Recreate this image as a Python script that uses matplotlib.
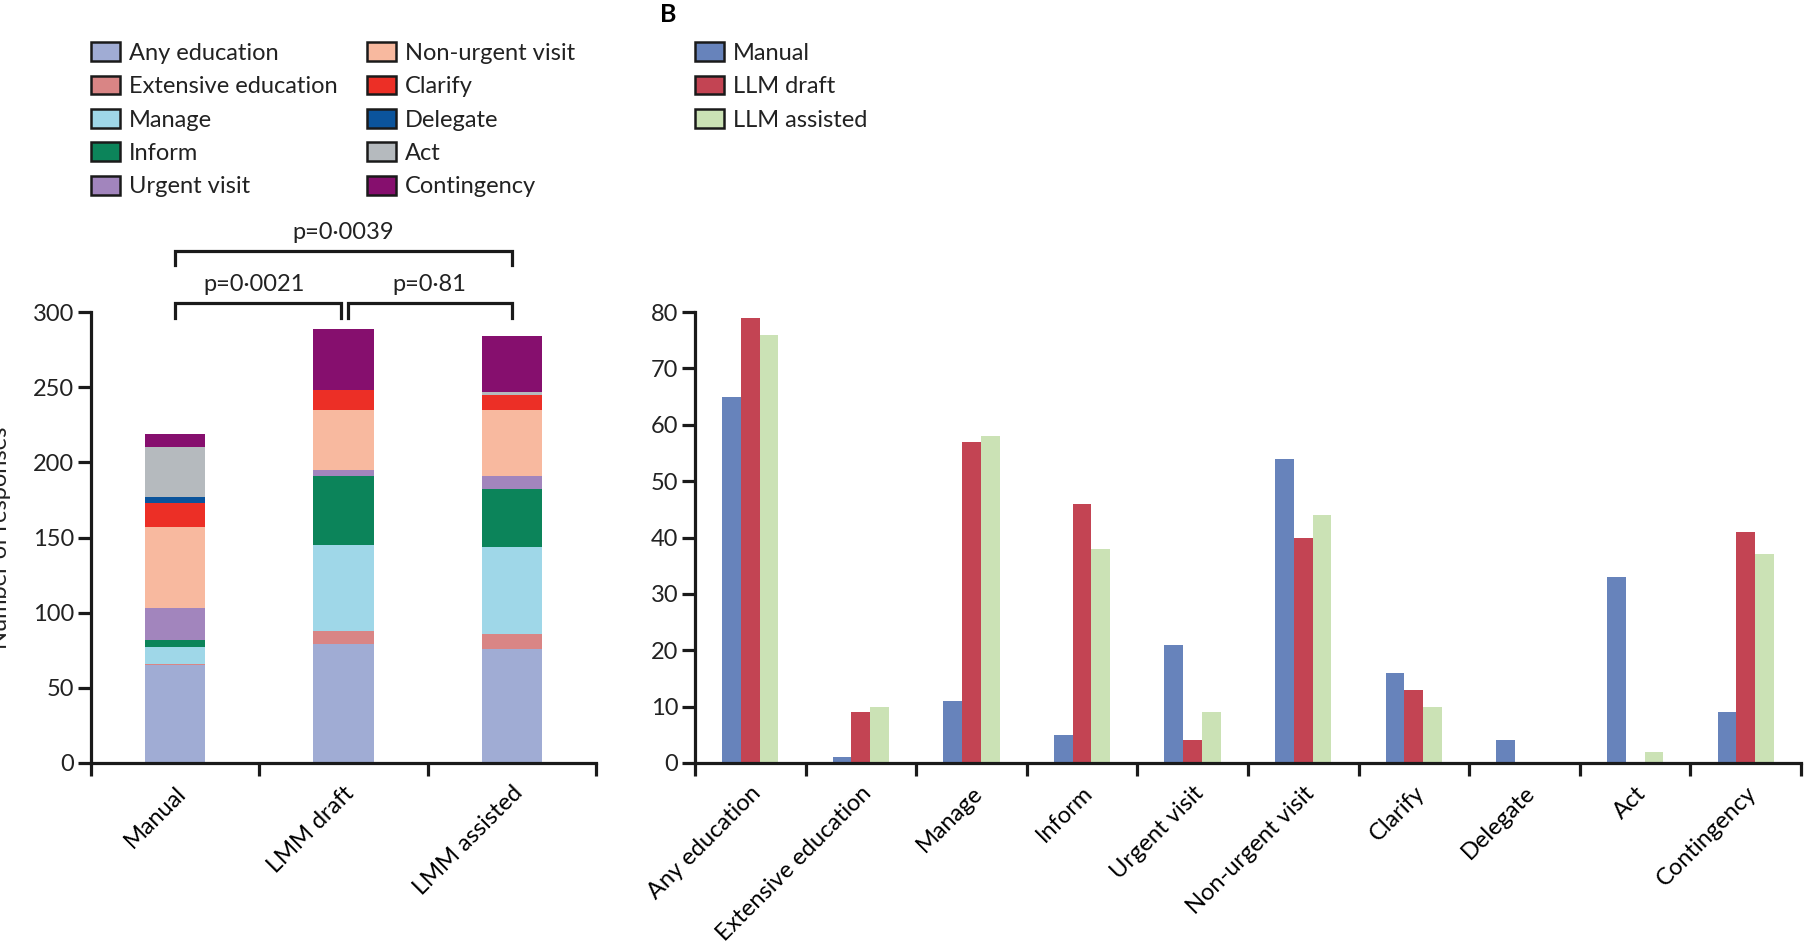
import matplotlib
matplotlib.use('Agg')
import matplotlib.pyplot as plt
import numpy as np
from matplotlib.patches import Patch

plt.rcParams['font.family'] = ['Lato', 'DejaVu Sans']
plt.rcParams['font.size'] = 17

#------------------------------------------------
# data
categories = ['Any education', 'Extensive education', 'Manage', 'Inform', 'Urgent visit',
              'Non-urgent visit', 'Clarify', 'Delegate', 'Act', 'Contingency']
manual = [65, 1, 11, 5, 21, 54, 16, 4, 33, 9]
llm_draft = [79, 9, 57, 46, 4, 40, 13, 0, 0, 41]
llm_assisted = [76, 10, 58, 38, 9, 44, 10, 0, 2, 37]

groups_a = ['Manual', 'LMM draft', 'LMM assisted']
series_b = ['Manual', 'LLM draft', 'LLM assisted']

cat_colors = ['#a0acd4', '#d98585', '#9fd7e8', '#0c845a', '#a285bd',
              '#f8b99f', '#ec2f26', '#0b549c', '#b5babe', '#860f6e']
ser_colors = ['#6783bb', '#c34453', '#cbe2b5']

pvals = ['p=0·0039', 'p=0·0021', 'p=0·81']

edge = '#1a1a1a'

fig = plt.figure(figsize=(18.05, 9.47), dpi=100)
axA = fig.add_axes([0.0504, 0.1943, 0.2798, 0.4762])
axB = fig.add_axes([0.3850, 0.1943, 0.6128, 0.4762])


def style(ax, n):
    for s in ['top', 'right']:
        ax.spines[s].set_visible(False)
    for s in ['left', 'bottom']:
        ax.spines[s].set_linewidth(2.3)
        ax.spines[s].set_color(edge)
    ax.set_xlim(-0.5, n - 0.5)
    ax.set_xticks(np.arange(-0.5, n, 1.0))
    ax.set_xticklabels([])
    ax.tick_params(axis='both', which='major', length=9.5, width=2.3, color=edge,
                   labelcolor='#222222')
    ax.tick_params(axis='y', pad=2.5, labelsize=17)


#------------------------------------------------
# panel A: stacked
style(axA, len(groups_a))
stacks = np.array([manual, llm_draft, llm_assisted])
bottom = np.zeros(len(groups_a))
xa = np.arange(len(groups_a))
for k in range(len(categories)):
    axA.bar(xa, stacks[:, k], 0.36, bottom=bottom, color=cat_colors[k], linewidth=0)
    bottom = bottom + stacks[:, k]
axA.set_ylim(0, 300)
axA.set_yticks(np.arange(0, 301, 50))
axA.set_xticks(xa, groups_a, minor=True)
axA.tick_params(axis='x', which='minor', length=0, pad=14)

# significance brackets
def bracket(ax, x0, x1, ytop, ybot, text=None, tx=None, ty=None):
    ax.plot([x0, x0, x1, x1], [ybot, ytop, ytop, ybot], color=edge, lw=2.3,
            clip_on=False, solid_joinstyle='miter')
    if text:
        ax.text(tx, ty, text, ha='center', va='center', fontsize=17, color='#222222')

bracket(axA, 0, 2, 340.6, 331.4, pvals[0], 1.0, 352.8)
bracket(axA, 0, 0.985, 306.1, 296.2, pvals[1], 0.47, 318.4)
bracket(axA, 1.025, 2, 306.1, 296.2, pvals[2], 1.51, 318.4)

#------------------------------------------------
# panel B: grouped
style(axB, len(categories))
xb = np.arange(len(categories))
w = 0.17
for j, vals in enumerate([manual, llm_draft, llm_assisted]):
    axB.bar(xb + (j - 1) * w, vals, w, color=ser_colors[j], linewidth=0)
axB.set_ylim(0, 80)
axB.set_yticks(np.arange(0, 81, 10))
axB.set_xticks(xb, categories, minor=True)
axB.tick_params(axis='x', which='minor', length=0, pad=14)

for ax in [axA, axB]:
    for lab in ax.get_xticklabels(minor=True):
        lab.set_rotation(45)
        lab.set_ha('right')
        lab.set_va('top')
        lab.set_rotation_mode('anchor')
        lab.set_fontsize(17)

fig.text(0.0005, 0.432, 'Number of responses', rotation=90, ha='center', va='center',
         fontsize=17, color='#222222')

fig.text(0.370, 0.985, 'B', fontsize=18, fontweight='bold', ha='center', va='center')

#------------------------------------------------
# legends
def make_legend(labels, colors, x):
    handles = [Patch(facecolor=c, edgecolor=edge, linewidth=1.8) for c in colors]
    leg = fig.legend(handles, labels, loc='upper left', bbox_to_anchor=(x, 0.9555),
                     frameon=False, borderpad=0, borderaxespad=0, handlelength=1.25,
                     handleheight=0.85, handletextpad=0.35, labelspacing=0.5, fontsize=17)
    for t in leg.get_texts():
        t.set_color('#222222')
    return leg

make_legend(categories[:5], cat_colors[:5], 0.0504)
make_legend(categories[5:], cat_colors[5:], 0.2033)
make_legend(series_b, ser_colors, 0.3850)

fig.savefig('out.png', dpi=100)
